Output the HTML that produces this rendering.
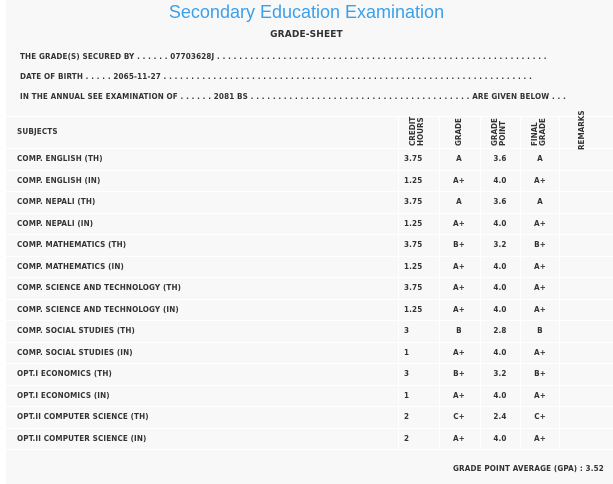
<!DOCTYPE html>
<html><head><style>
body{margin:0;background:#fff;width:613px;height:484px;overflow:hidden;font-family:"DejaVu Sans Condensed","Liberation Sans",sans-serif;color:#333;}
.p{position:absolute;left:6px;top:0;width:607px;height:484px;background:#f8f8f8;}
.t{position:absolute;white-space:nowrap;font-size:8px;font-weight:bold;letter-spacing:0.15px}
.title{position:absolute;left:0;width:613px;top:2px;text-align:center;font-family:"Liberation Sans",sans-serif;font-size:18px;color:#3aa0ea;}
.h{position:absolute;background:#fff;height:1px;left:6px;width:607px}
.v{position:absolute;background:#fff;width:1px;top:116px;height:333px}
.r{position:absolute;font-size:8px;font-weight:bold;transform:rotate(-90deg);transform-origin:left top;white-space:nowrap;line-height:8px}
</style></head><body>
<div class="p"></div>
<div class="title">Secondary Education Examination</div>
<div class="t" style="left:0;width:613px;text-align:center;top:29px;font-size:10px">GRADE-SHEET</div>
<div class="t" style="left:20px;top:52px">THE GRADE(S) SECURED BY . . . . . . 07703628J . . . . . . . . . . . . . . . . . . . . . . . . . . . . . . . . . . . . . . . . . . . . . . . . . . . . . . . . . . . .</div>
<div class="t" style="left:20px;top:72px">DATE OF BIRTH . . . . . 2065-11-27 . . . . . . . . . . . . . . . . . . . . . . . . . . . . . . . . . . . . . . . . . . . . . . . . . . . . . . . . . . . . . . . . . . .</div>
<div class="t" style="left:20px;top:92px">IN THE ANNUAL SEE EXAMINATION OF . . . . . . 2081 BS . . . . . . . . . . . . . . . . . . . . . . . . . . . . . . . . . . . . . . . . ARE GIVEN BELOW . . .</div>
<div class="h" style="top:116px"></div>
<div class="h" style="top:148px"></div>
<div class="v" style="left:398px"></div><div class="v" style="left:439px"></div><div class="v" style="left:480px"></div><div class="v" style="left:520px"></div><div class="v" style="left:559px"></div>
<div class="t" style="left:17px;top:127px">SUBJECTS</div>
<div class="r" style="left:409px;top:146px">CREDIT<br>HOURS</div>
<div class="r" style="left:455px;top:146px">GRADE</div>
<div class="r" style="left:491px;top:146px">GRADE<br>POINT</div>
<div class="r" style="left:531px;top:146px">FINAL<br>GRADE</div>
<div class="r" style="left:578px;top:150px">REMARKS</div>
<div id="rows"></div>
<div class="t" style="left:453px;top:464px">GRADE POINT AVERAGE (GPA) : 3.52</div>
<script>
var d=[["COMP. ENGLISH (TH)","3.75","A","3.6","A"],["COMP. ENGLISH (IN)","1.25","A+","4.0","A+"],["COMP. NEPALI (TH)","3.75","A","3.6","A"],["COMP. NEPALI (IN)","1.25","A+","4.0","A+"],["COMP. MATHEMATICS (TH)","3.75","B+","3.2","B+"],["COMP. MATHEMATICS (IN)","1.25","A+","4.0","A+"],["COMP. SCIENCE AND TECHNOLOGY (TH)","3.75","A+","4.0","A+"],["COMP. SCIENCE AND TECHNOLOGY (IN)","1.25","A+","4.0","A+"],["COMP. SOCIAL STUDIES (TH)","3","B","2.8","B"],["COMP. SOCIAL STUDIES (IN)","1","A+","4.0","A+"],["OPT.I ECONOMICS (TH)","3","B+","3.2","B+"],["OPT.I ECONOMICS (IN)","1","A+","4.0","A+"],["OPT.II COMPUTER SCIENCE (TH)","2","C+","2.4","C+"],["OPT.II COMPUTER SCIENCE (IN)","2","A+","4.0","A+"]];
var h="";
d.forEach(function(r,i){var y=148+i*21.5;var ty=y+6;
h+='<div class="h" style="top:'+Math.round(y+21.5)+'px"></div>';
h+='<div class="t" style="left:17px;top:'+ty+'px">'+r[0]+'</div>';
h+='<div class="t" style="left:404px;top:'+ty+'px">'+r[1]+'</div>';
h+='<div class="t" style="left:449px;width:20px;text-align:center;top:'+ty+'px">'+r[2]+'</div>';
h+='<div class="t" style="left:490px;width:20px;text-align:center;top:'+ty+'px">'+r[3]+'</div>';
h+='<div class="t" style="left:530px;width:20px;text-align:center;top:'+ty+'px">'+r[4]+'</div>';});
document.getElementById("rows").innerHTML=h;
</script>
</body></html>
